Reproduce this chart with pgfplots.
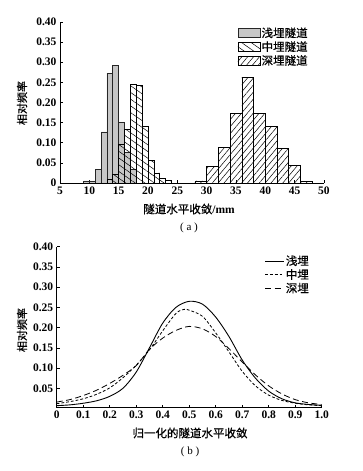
\documentclass[border=0pt]{standalone}
\usepackage{fontspec}
\setmainfont{Liberation Serif}
\newfontfamily\cjk[FakeBold=0.6]{Noto Sans CJK SC}
\usepackage{pgfplots}
\pgfplotsset{compat=1.18}
\usetikzlibrary{patterns.meta}
\pgfplotsset{
  mybox/.style={legend image code/.code={\draw[##1] (0pt,-4.5pt) rectangle (22pt,4.5pt);}},
  myline/.style={legend image code/.code={\draw[##1] (0pt,0pt) -- (19pt,0pt);}},
  common/.style={
    scale only axis,
    axis lines*=left,
    axis line style={line width=0.8pt},
    tick align=inside,
    major tick length=3pt,
    tick style={black, line width=0.6pt},
    /pgf/number format/assume math mode=true,
    tick label style={font=\bfseries\fontsize{11.5}{13}\selectfont},
    legend style={draw=none, fill=none, inner sep=0pt, row sep=0pt,
      font=\cjk\fontsize{11.5}{13}\selectfont,
      nodes={inner sep=1.3pt}, legend cell align=left},
  }
}
\begin{document}
\begin{tikzpicture}[x=1pt,y=1pt]
\path[use as bounding box] (0,0) rectangle (363,471);
% ---------- (a) ----------
\begin{axis}[common,
  at={(60pt,288pt)}, anchor=south west,
  width=264pt, height=161pt,
  xmin=5, xmax=50, ymin=0, ymax=0.40,
  xtick={5,10,...,50},
  ytick={0,0.05,0.10,0.15,0.20,0.25,0.30,0.35,0.40},
  yticklabels={0,0.05,0.10,0.15,0.20,0.25,0.30,0.35,0.40},
  legend style={at={(0.672,0.975)}, anchor=north west},
]
\addplot[ybar, bar width=1, bar shift=0, fill=black!22, draw=black!85, line width=0.7pt, mybox]
 coordinates {(9.5,0.005) (10.5,0.005) (11.5,0.033) (12.5,0.127) (13.5,0.273) (14.5,0.293) (15.5,0.150) (16.5,0.077) (17.5,0.033)};
\addlegendentry{浅埋隧道}
\addplot[ybar, bar width=1, bar shift=0, draw=black, line width=0.7pt,
  pattern={Lines[angle=-35, distance=5.5pt, line width=0.5pt]}, pattern color=black, mybox]
 coordinates {(13.5,0.009) (14.5,0.022) (15.5,0.097) (16.5,0.134) (17.5,0.246) (18.5,0.243) (19.5,0.140) (20.5,0.056) (21.5,0.025) (22.5,0.012) (23.5,0.006)};
\addlegendentry{中埋隧道}
\addplot[ybar, bar width=2, bar shift=0, draw=black, line width=0.7pt,
  pattern={Lines[angle=50, distance=4.5pt, line width=0.5pt]}, pattern color=black, mybox]
 coordinates {(29,0.005) (31,0.041) (33,0.089) (35,0.173) (37,0.263) (39,0.173) (41,0.140) (43,0.085) (45,0.043) (47,0.003)};
\addlegendentry{深埋隧道}
\end{axis}
\node[font=\cjk\fontsize{11.5}{13}\selectfont] at (189,262) {隧道水平收敛\normalfont\bfseries\fontsize{11.5}{13}\selectfont/mm};
\node[font=\fontsize{11}{13}\selectfont] at (189,243) {( a )};
\node[font=\cjk\fontsize{11}{13}\selectfont, rotate=90] at (22,368) {相对频率};
% ---------- (b) ----------
\begin{axis}[common,
  at={(56.7pt,63.3pt)}, anchor=south west,
  width=265pt, height=161pt,
  xmin=0, xmax=1, ymin=0.002, ymax=0.40,
  xtick={0,0.1,0.2,0.3,0.4,0.5,0.6,0.7,0.8,0.9,1.0},
  xticklabels={0,0.1,0.2,0.3,0.4,0.5,0.6,0.7,0.8,0.9,1.0},
  ytick={0.05,0.10,0.15,0.20,0.25,0.30,0.35,0.40},
  yticklabels={0.05,0.10,0.15,0.20,0.25,0.30,0.35,0.40},
  legend style={at={(0.784,0.955)}, anchor=north west},
]
\addplot[black, line width=0.9pt, smooth, myline] coordinates {
 (0,0.007) (0.05,0.009) (0.1,0.013) (0.15,0.019) (0.2,0.030) (0.25,0.050) (0.3,0.090) (0.35,0.150) (0.4,0.211) (0.45,0.250) (0.5,0.265) (0.55,0.258) (0.6,0.226) (0.65,0.178) (0.7,0.120) (0.75,0.075) (0.8,0.043) (0.85,0.024) (0.9,0.014) (0.95,0.010) (1.0,0.008)};
\addlegendentry{浅埋}
\addplot[black, line width=0.8pt, smooth, dash pattern=on 2.8pt off 2pt, myline] coordinates {
 (0,0.012) (0.05,0.017) (0.1,0.024) (0.15,0.035) (0.2,0.051) (0.25,0.076) (0.3,0.107) (0.35,0.145) (0.4,0.192) (0.45,0.235) (0.48,0.245) (0.5,0.243) (0.55,0.228) (0.6,0.187) (0.65,0.140) (0.7,0.092) (0.75,0.056) (0.8,0.033) (0.85,0.020) (0.9,0.013) (0.95,0.009) (1.0,0.007)};
\addlegendentry{中埋}
\addplot[black, line width=0.8pt, smooth, dash pattern=on 6pt off 3.5pt, myline] coordinates {
 (0,0.016) (0.05,0.022) (0.1,0.032) (0.15,0.045) (0.2,0.062) (0.25,0.082) (0.3,0.106) (0.35,0.146) (0.4,0.174) (0.45,0.193) (0.5,0.203) (0.55,0.197) (0.6,0.178) (0.65,0.148) (0.7,0.115) (0.75,0.083) (0.8,0.056) (0.85,0.036) (0.9,0.022) (0.95,0.014) (1.0,0.010)};
\addlegendentry{深埋}
\end{axis}
\node[font=\cjk\fontsize{11.5}{13}\selectfont] at (190,38) {归一化的隧道水平收敛};
\node[font=\fontsize{11}{13}\selectfont] at (190,19) {( b )};
\node[font=\cjk\fontsize{11}{13}\selectfont, rotate=90] at (22,141) {相对频率};
\end{tikzpicture}
\end{document}
